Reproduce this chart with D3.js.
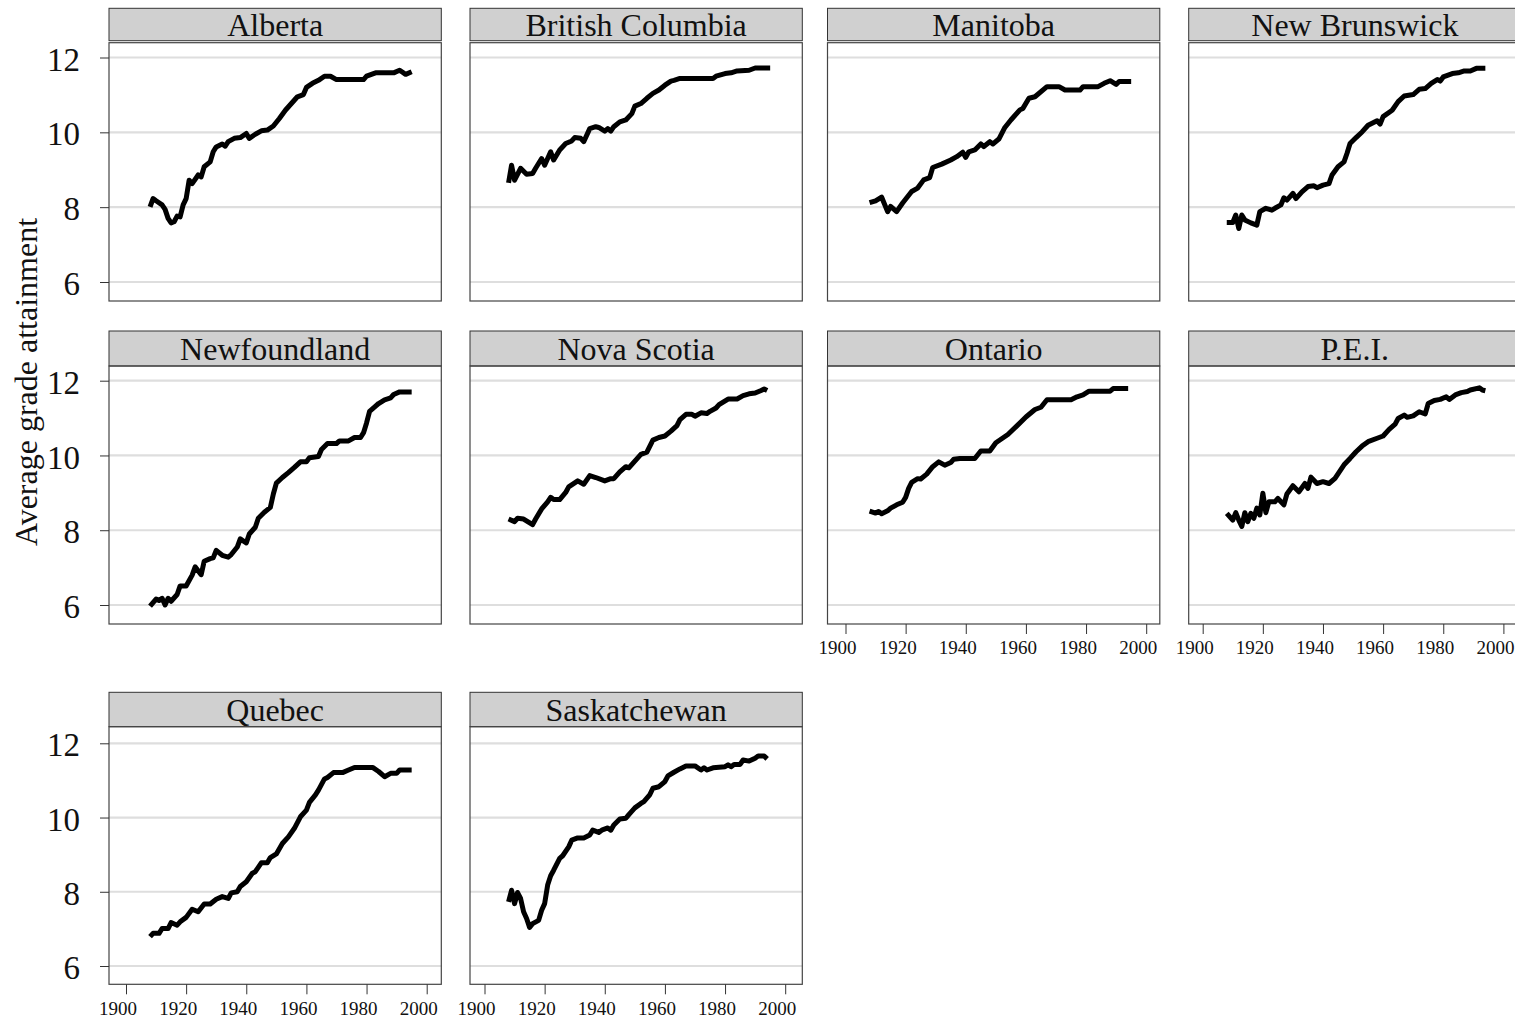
<!DOCTYPE html>
<html>
<head>
<meta charset="utf-8">
<script src="https://cdn.jsdelivr.net/npm/d3@7"></script>
<style>
  body { margin: 0; background: #fff; }
  svg { display: block; font-family: "Liberation Serif", "Times New Roman", serif; }
</style>
</head>
<body>
<div id="chart"></div>
<script>
var provinces = ['Alberta', 'British Columbia', 'Manitoba', 'New Brunswick', 'Newfoundland',
  'Nova Scotia', 'Ontario', 'P.E.I.', 'Quebec', 'Saskatchewan'];

// [birth year, average grade attainment]
var alberta = [[1908,8.01],[1909,8.23],[1910,8.17],[1912,8.06],[1913,7.94],[1914,7.70],[1915,7.58],[1916,7.61],[1917,7.76],[1918,7.74],[1919,8.06],[1920,8.23],[1921,8.72],[1922,8.63],[1924,8.86],[1925,8.81],[1926,9.08],[1928,9.21],[1929,9.48],[1930,9.61],[1932,9.69],[1933,9.63],[1934,9.75],[1936,9.84],[1938,9.86],[1940,9.97],[1941,9.84],[1943,9.95],[1945,10.04],[1947,10.06],[1949,10.17],[1951,10.37],[1953,10.59],[1955,10.77],[1957,10.95],[1959,11.01],[1960,11.20],[1962,11.31],[1964,11.39],[1966,11.50],[1968,11.50],[1970,11.41],[1979,11.41],[1980,11.50],[1983,11.59],[1989,11.59],[1991,11.66],[1993,11.55],[1995,11.62]];
var britishColumbia = [[1908,8.65],[1909,9.12],[1910,8.72],[1912,9.04],[1914,8.88],[1916,8.90],[1917,9.04],[1919,9.30],[1920,9.12],[1922,9.48],[1923,9.26],[1925,9.53],[1927,9.70],[1929,9.77],[1930,9.86],[1932,9.84],[1933,9.75],[1935,10.10],[1937,10.15],[1938,10.13],[1940,10.03],[1941,10.10],[1942,10.03],[1943,10.15],[1945,10.28],[1947,10.33],[1949,10.50],[1950,10.70],[1952,10.77],[1954,10.91],[1956,11.04],[1958,11.13],[1960,11.26],[1962,11.37],[1963,11.39],[1965,11.44],[1976,11.44],[1977,11.50],[1980,11.57],[1982,11.59],[1984,11.64],[1988,11.66],[1990,11.72],[1995,11.72]];
var manitoba = [[1908,8.12],[1910,8.17],[1912,8.27],[1914,7.88],[1915,8.02],[1917,7.88],[1919,8.11],[1922,8.42],[1924,8.51],[1926,8.73],[1928,8.79],[1929,9.06],[1932,9.15],[1935,9.26],[1937,9.35],[1939,9.47],[1940,9.33],[1941,9.48],[1943,9.53],[1945,9.69],[1946,9.62],[1948,9.75],[1949,9.69],[1951,9.82],[1953,10.13],[1955,10.33],[1958,10.60],[1959,10.64],[1961,10.91],[1963,10.95],[1967,11.22],[1971,11.22],[1973,11.13],[1978,11.13],[1979,11.22],[1984,11.22],[1986,11.31],[1988,11.38],[1990,11.28],[1991,11.36],[1995,11.36]];
var newBrunswick = [[1908,7.59],[1910,7.59],[1911,7.79],[1912,7.43],[1913,7.79],[1914,7.66],[1916,7.58],[1918,7.52],[1919,7.88],[1921,7.97],[1923,7.92],[1924,7.97],[1926,8.06],[1927,8.25],[1928,8.19],[1930,8.37],[1931,8.23],[1933,8.41],[1935,8.55],[1937,8.57],[1938,8.52],[1940,8.59],[1942,8.63],[1943,8.86],[1945,9.08],[1947,9.21],[1948,9.44],[1949,9.70],[1951,9.86],[1953,10.01],[1955,10.19],[1958,10.31],[1959,10.22],[1960,10.42],[1963,10.59],[1965,10.82],[1967,10.97],[1970,11.01],[1972,11.15],[1974,11.17],[1976,11.31],[1978,11.41],[1979,11.37],[1980,11.48],[1983,11.57],[1985,11.59],[1987,11.64],[1989,11.64],[1991,11.71],[1994,11.71]];
var newfoundland = [[1908,5.97],[1910,6.16],[1911,6.12],[1912,6.18],[1913,6.00],[1914,6.18],[1915,6.10],[1917,6.28],[1918,6.51],[1920,6.51],[1922,6.80],[1923,7.02],[1925,6.81],[1926,7.17],[1928,7.24],[1929,7.26],[1930,7.46],[1932,7.33],[1934,7.28],[1935,7.35],[1937,7.55],[1938,7.77],[1940,7.66],[1941,7.90],[1943,8.08],[1944,8.32],[1946,8.48],[1948,8.61],[1949,8.97],[1950,9.26],[1952,9.41],[1954,9.54],[1956,9.68],[1958,9.83],[1960,9.83],[1961,9.94],[1964,9.97],[1965,10.16],[1967,10.32],[1970,10.32],[1971,10.39],[1974,10.39],[1976,10.48],[1978,10.48],[1979,10.61],[1980,10.87],[1981,11.18],[1983,11.32],[1984,11.39],[1986,11.49],[1988,11.54],[1989,11.63],[1991,11.70],[1995,11.70]];
var novaScotia = [[1908,8.30],[1910,8.23],[1911,8.32],[1913,8.30],[1916,8.15],[1917,8.30],[1919,8.57],[1921,8.76],[1922,8.88],[1923,8.82],[1925,8.82],[1927,9.01],[1928,9.16],[1931,9.32],[1933,9.23],[1935,9.46],[1937,9.41],[1940,9.32],[1942,9.38],[1943,9.38],[1945,9.56],[1947,9.70],[1948,9.67],[1950,9.85],[1952,10.03],[1954,10.09],[1956,10.41],[1958,10.48],[1960,10.52],[1962,10.65],[1964,10.80],[1965,10.96],[1967,11.10],[1969,11.10],[1970,11.05],[1972,11.14],[1974,11.12],[1975,11.18],[1977,11.27],[1978,11.36],[1981,11.51],[1984,11.51],[1986,11.60],[1988,11.65],[1990,11.67],[1992,11.74],[1993,11.78],[1994,11.74]];
var ontario = [[1908,8.51],[1910,8.46],[1911,8.50],[1912,8.44],[1914,8.52],[1915,8.59],[1917,8.68],[1919,8.75],[1920,8.88],[1921,9.12],[1922,9.28],[1924,9.38],[1925,9.37],[1927,9.50],[1929,9.70],[1931,9.83],[1933,9.74],[1935,9.81],[1936,9.90],[1938,9.92],[1943,9.92],[1945,10.12],[1948,10.12],[1950,10.34],[1954,10.56],[1957,10.79],[1960,11.03],[1963,11.23],[1965,11.29],[1967,11.49],[1975,11.49],[1977,11.57],[1979,11.62],[1981,11.72],[1988,11.72],[1989,11.79],[1994,11.79]];
var pei = [[1908,8.45],[1910,8.27],[1911,8.47],[1912,8.27],[1913,8.10],[1914,8.47],[1915,8.23],[1916,8.45],[1917,8.32],[1918,8.59],[1919,8.41],[1920,8.99],[1921,8.47],[1922,8.76],[1924,8.76],[1925,8.85],[1927,8.68],[1928,8.97],[1930,9.19],[1932,9.03],[1934,9.25],[1935,9.12],[1936,9.42],[1938,9.25],[1940,9.30],[1942,9.25],[1944,9.39],[1947,9.75],[1949,9.92],[1951,10.10],[1953,10.25],[1955,10.37],[1958,10.46],[1960,10.52],[1962,10.70],[1964,10.84],[1965,10.99],[1967,11.08],[1968,11.02],[1970,11.06],[1972,11.17],[1974,11.11],[1975,11.39],[1977,11.47],[1979,11.50],[1981,11.57],[1982,11.50],[1984,11.62],[1986,11.68],[1988,11.71],[1989,11.75],[1992,11.81],[1993,11.75],[1994,11.73]];
var quebec = [[1908,6.79],[1909,6.88],[1911,6.88],[1912,7.01],[1914,7.01],[1915,7.17],[1917,7.10],[1918,7.19],[1920,7.31],[1922,7.53],[1924,7.46],[1926,7.67],[1928,7.67],[1930,7.80],[1932,7.87],[1934,7.82],[1935,7.97],[1937,8.00],[1938,8.14],[1940,8.27],[1942,8.50],[1943,8.54],[1945,8.78],[1947,8.78],[1948,8.92],[1950,9.02],[1952,9.30],[1954,9.48],[1956,9.71],[1958,10.02],[1960,10.20],[1961,10.41],[1963,10.61],[1964,10.74],[1966,11.04],[1967,11.08],[1969,11.21],[1972,11.21],[1974,11.28],[1976,11.35],[1982,11.35],[1984,11.24],[1986,11.10],[1988,11.19],[1990,11.19],[1991,11.28],[1995,11.28]];
var saskatchewan = [[1908,7.73],[1909,8.04],[1910,7.68],[1911,7.98],[1912,7.82],[1913,7.46],[1914,7.28],[1915,7.04],[1916,7.14],[1918,7.23],[1919,7.50],[1920,7.68],[1921,8.18],[1922,8.43],[1923,8.58],[1925,8.90],[1926,8.97],[1928,9.21],[1929,9.39],[1931,9.45],[1933,9.45],[1935,9.53],[1936,9.66],[1938,9.60],[1939,9.66],[1941,9.72],[1942,9.66],[1943,9.80],[1945,9.96],[1947,9.98],[1948,10.08],[1950,10.26],[1952,10.38],[1953,10.43],[1955,10.62],[1956,10.79],[1958,10.83],[1960,10.97],[1961,11.12],[1963,11.22],[1965,11.31],[1967,11.39],[1970,11.39],[1972,11.28],[1973,11.34],[1974,11.28],[1976,11.34],[1980,11.37],[1981,11.42],[1982,11.37],[1983,11.43],[1985,11.43],[1986,11.55],[1988,11.52],[1990,11.60],[1991,11.66],[1993,11.66],[1994,11.58]];

var series = [alberta, britishColumbia, manitoba, newBrunswick, newfoundland,
  novaScotia, ontario, pei, quebec, saskatchewan];

var yTicks = [6, 8, 10, 12];
var xTicks = [1900, 1920, 1940, 1960, 1980, 2000];

// panels that carry an x axis (only where nothing sits below)
var hasXAxis = ['Ontario', 'P.E.I.', 'Quebec', 'Saskatchewan'];

var width = 1515;
var height = 1022;

var colLeft = [109, 470, 827.5, 1188.7];
var colInset = [17, 14.5, 18, 14];   // where 1900 sits inside each column
var panelWidth = 332.3;
var rows = [
  { stripTop: 8.3, stripBottom: 40.7, top: 42.7, bottom: 301, y6: 282, y12: 57.5 },
  { stripTop: 331, stripBottom: 366, top: 366, bottom: 624, y6: 605, y12: 380.7 },
  { stripTop: 692.3, stripBottom: 726.7, top: 726.7, bottom: 984.3, y6: 966, y12: 743.3 }
];

var svg = d3.select('#chart').append('svg')
  .attr('width', width)
  .attr('height', height);

svg.append('rect')
  .attr('width', width)
  .attr('height', height)
  .attr('fill', '#fff');

provinces.forEach(function(name, i) {
  var row = rows[Math.floor(i / 4)];
  var col = i % 4;
  var left = colLeft[col];

  var x = d3.scaleLinear()
    .domain([1900, 2000])
    .range([left + colInset[col], left + colInset[col] + 300.7]);

  var y = d3.scaleLinear()
    .domain([6, 12])
    .range([row.y6, row.y12]);

  var g = svg.append('g').attr('class', 'panel');

  // strip
  g.append('rect')
    .attr('x', left)
    .attr('y', row.stripTop)
    .attr('width', panelWidth)
    .attr('height', row.stripBottom - row.stripTop)
    .attr('fill', '#d0d0d0')
    .attr('stroke', '#333')
    .attr('stroke-width', 1);

  g.append('text')
    .attr('x', left + panelWidth / 2)
    .attr('y', (row.stripTop + row.stripBottom) / 2 + 11)
    .attr('text-anchor', 'middle')
    .attr('font-size', 32)
    .attr('fill', '#111')
    .text(name);

  // grid
  g.selectAll('.grid')
    .data(yTicks)
    .enter()
      .append('line')
      .attr('class', 'grid')
      .attr('x1', left)
      .attr('x2', left + panelWidth)
      .attr('y1', d => y(d))
      .attr('y2', d => y(d))
      .attr('stroke', '#dedede')
      .attr('stroke-width', 2.2);

  // series
  var line = d3.line()
    .x(d => x(d[0]))
    .y(d => y(d[1]));

  g.append('path')
    .datum(series[i])
    .attr('d', line)
    .attr('fill', 'none')
    .attr('stroke', '#000')
    .attr('stroke-width', 5)
    .attr('stroke-linejoin', 'round')
    .attr('stroke-linecap', 'butt');

  // plot frame
  g.append('rect')
    .attr('x', left)
    .attr('y', row.top)
    .attr('width', panelWidth)
    .attr('height', row.bottom - row.top)
    .attr('fill', 'none')
    .attr('stroke', '#444')
    .attr('stroke-width', 1.2);

  // y axis on first column
  if (col === 0) {
    var yAxis = d3.axisLeft(y)
      .tickValues(yTicks)
      .tickSize(9)
      .tickPadding(20)
      .tickFormat(d3.format('d'));

    var ya = g.append('g')
      .attr('transform', `translate(${left}, 0)`)
      .call(yAxis);
    ya.select('.domain').remove();
    ya.selectAll('line').attr('stroke', '#333');
    ya.selectAll('text')
      .attr('font-family', '"Liberation Serif", "Times New Roman", serif')
      .attr('font-size', 33)
      .attr('fill', '#111')
      .attr('dy', '0.38em');
  }

  // x axis on bottom panels
  if (hasXAxis.indexOf(name) > -1) {
    var xAxis = d3.axisBottom(x)
      .tickValues(xTicks)
      .tickSize(10)
      .tickPadding(6.8)
      .tickFormat(d3.format('d'));

    var xa = g.append('g')
      .attr('transform', `translate(0, ${row.bottom})`)
      .call(xAxis);
    xa.select('.domain').remove();
    xa.selectAll('line').attr('stroke', '#333');
    xa.selectAll('text')
      .attr('font-family', '"Liberation Serif", "Times New Roman", serif')
      .attr('font-size', 19)
      .attr('fill', '#111')
      .attr('dx', -8.5);
  }
});

// shared y title
svg.append('text')
  .attr('transform', 'translate(26, 382) rotate(-90)')
  .attr('text-anchor', 'middle')
  .attr('dominant-baseline', 'central')
  .attr('font-size', 32)
  .attr('fill', '#111')
  .text('Average grade attainment');
</script>
</body>
</html>
